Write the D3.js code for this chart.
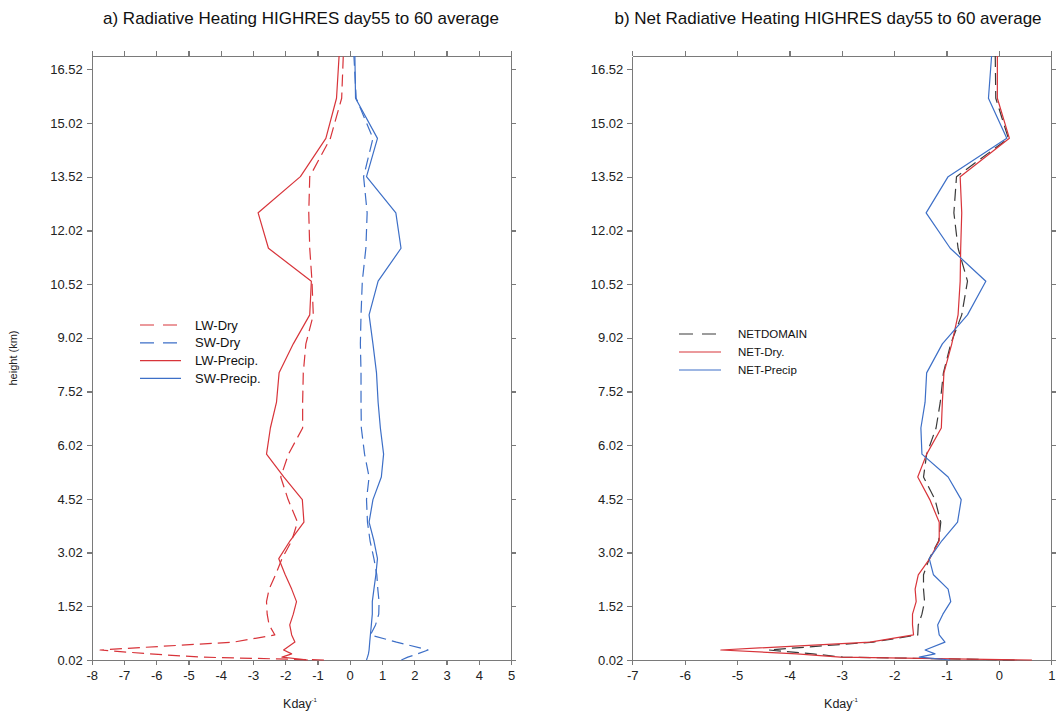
<!DOCTYPE html>
<html>
<head>
<meta charset="utf-8">
<script src="https://cdn.jsdelivr.net/npm/d3@7"></script>
<style>
  html, body { margin: 0; padding: 0; background: #ffffff; }
  svg { display: block; font-family: "Liberation Sans", Arial, Helvetica, sans-serif; }
  .axis path, .axis line { stroke: #7a7a7a; stroke-width: 1.3px; shape-rendering: crispEdges; }
  .axis text { fill: #222; font-size: 13px; }
</style>
</head>
<body>
<svg id="chart" width="1063" height="715"></svg>
<script>
// Model levels (km) shared by every profile
const heights = [0.02, 0.10, 0.19, 0.30, 0.52, 0.72, 1.0, 1.3, 1.65, 2.0, 2.4, 2.85, 3.35, 3.87,
  4.5, 5.13, 5.77, 6.5, 7.22, 8.04, 8.85, 9.66, 10.6, 11.52, 12.51, 13.52, 14.59, 15.71, 16.89];

// Panel a) radiative heating rates (K/day)
const lwDry = [-0.8, -4.6, -6.2, -7.74, -3.6, -2.32, -2.5, -2.56, -2.58, -2.5, -2.3, -2.1, -1.8, -1.62,
  -1.91, -2.14, -1.9, -1.46, -1.46, -1.44, -1.36, -1.13, -1.17, -1.24, -1.27, -1.24, -0.6, -0.25, -0.2];
const swDry = [1.6, 1.8, 2.1, 2.43, 1.45, 0.64, 0.8, 0.9, 0.91, 0.87, 0.84, 0.75, 0.63, 0.55,
  0.52, 0.6, 0.46, 0.36, 0.35, 0.35, 0.33, 0.35, 0.39, 0.5, 0.54, 0.43, 0.72, 0.2, 0.13];
const lwPrecip = [-1.3, -2.1, -1.8, -2.05, -1.7, -1.8, -1.86, -1.75, -1.65, -1.8, -2.0, -2.2, -1.85, -1.42,
  -1.47, -2.04, -2.58, -2.46, -2.27, -2.19, -1.75, -1.24, -1.19, -2.52, -2.84, -1.53, -0.74, -0.41, -0.33];
const swPrecip = [0.52, 0.55, 0.58, 0.6, 0.62, 0.64, 0.67, 0.7, 0.7, 0.75, 0.81, 0.86, 0.75, 0.6,
  0.72, 0.98, 1.05, 0.95, 0.88, 0.83, 0.72, 0.6, 0.88, 1.59, 1.43, 0.52, 0.86, 0.18, 0.16];

// Panel b) net radiative heating rates (K/day)
const netDomain = [0.3, -2.98, -3.55, -4.4, -2.4, -1.55, -1.54, -1.47, -1.42, -1.44, -1.44, -1.33, -1.15, -1.11,
  -1.22, -1.44, -1.38, -1.2, -1.12, -1.06, -0.92, -0.71, -0.6, -0.78, -0.86, -0.81, 0.18, -0.06, -0.07];
const netDry = [0.63, -3.03, -3.86, -5.31, -2.46, -1.63, -1.65, -1.65, -1.58, -1.6, -1.54, -1.32, -1.14, -1.14,
  -1.32, -1.55, -1.38, -1.1, -1.08, -1.05, -0.9, -0.78, -0.74, -0.73, -0.71, -0.74, 0.2, -0.03, -0.03];
const netPrecip = [-0.93, -1.52, -1.22, -1.41, -1.03, -1.14, -1.17, -1.07, -0.92, -0.97, -1.25, -1.33, -1.09, -0.79,
  -0.72, -0.97, -1.47, -1.49, -1.41, -1.38, -1.08, -0.6, -0.25, -0.93, -1.39, -0.97, 0.15, -0.2, -0.14];

// Tick labels
const yTicks = [0.02, 1.52, 3.02, 4.52, 6.02, 7.52, 9.02, 10.52, 12.02, 13.52, 15.02, 16.52];
const xTicksA = [-8, -7, -6, -5, -4, -3, -2, -1, 0, 1, 2, 3, 4, 5];
const xTicksB = [-7, -6, -5, -4, -3, -2, -1, 0, 1];

const titleA = "a) Radiative Heating HIGHRES day55 to 60 average";
const titleB = "b) Net Radiative Heating HIGHRES day55 to 60 average";

const RED = "#d8343a", BLUE = "#3d6fc7", DARK = "#3a3a3a";

const svg = d3.select("#chart");

const y = d3.scaleLinear().domain([0.02, 16.89]).range([660, 56]);

function panel(cfg) {
  const x = d3.scaleLinear().domain(cfg.domain).range(cfg.range);
  const g = svg.append("g");
  const [x0, x1] = cfg.range;

  g.append("g").attr("class", "axis").attr("transform", `translate(${x0},0)`)
    .call(d3.axisLeft(y).tickValues(yTicks).tickFormat(d3.format(".2f")).tickSize(5).tickSizeOuter(0).tickPadding(4));
  g.append("g").attr("class", "axis").attr("transform", `translate(${x1},0)`)
    .call(d3.axisRight(y).tickValues(yTicks).tickFormat("").tickSize(5).tickSizeOuter(0));
  g.append("g").attr("class", "axis").attr("transform", `translate(0,${y.range()[0]})`)
    .call(d3.axisBottom(x).tickValues(cfg.ticks).tickFormat(d3.format("d")).tickSize(5).tickSizeOuter(0).tickPadding(6));
  g.append("g").attr("class", "axis").attr("transform", `translate(0,${y.range()[1]})`)
    .call(d3.axisTop(x).tickValues(cfg.ticks).tickFormat("").tickSize(5).tickSizeOuter(0));
  g.selectAll(".axis text").style("font-size", "13px");
  // plain hyphen minus for negative tick labels
  g.selectAll(".axis text").text(function () { return this.textContent.replace("\u2212", "-"); });

  const line = d3.line().x(d => x(d[0])).y(d => y(d[1]));
  cfg.series.forEach(s => {
    g.append("path")
      .datum(s.values.map((v, i) => [v, heights[i]]))
      .attr("d", line)
      .attr("fill", "none")
      .attr("stroke", s.color)
      .attr("stroke-width", 1.2)
      .attr("stroke-linejoin", "round")
      .attr("stroke-dasharray", s.dashed ? "12,6" : null);
  });

  // legend
  const lg = g.append("g");
  cfg.series.forEach((s, i) => {
    const ly = cfg.legend.y + i * cfg.legend.dy;
    lg.append("line")
      .attr("x1", cfg.legend.x).attr("x2", cfg.legend.x + cfg.legend.len)
      .attr("y1", ly).attr("y2", ly)
      .attr("stroke", s.color).attr("stroke-width", 1.2)
      .attr("stroke-dasharray", s.dashed ? "14,9" : null);
    lg.append("text")
      .attr("x", cfg.legend.tx).attr("y", ly).attr("dy", "0.35em")
      .attr("font-size", cfg.legend.fs).attr("fill", "#111")
      .text(s.name);
  });

  // title
  g.append("text").attr("x", cfg.titleX).attr("y", 24).attr("text-anchor", "middle")
    .attr("font-size", 17).attr("fill", "#111").text(cfg.title);

  // x axis label
  const xl = g.append("text").attr("x", cfg.xlabX).attr("y", 708).attr("text-anchor", "middle")
    .attr("font-size", 12.5).attr("fill", "#222");
  xl.append("tspan").text("Kday");
  xl.append("tspan").attr("dy", -6).attr("font-size", 6).text("-1");
}

panel({
  domain: [-8, 5], range: [91.7, 511], ticks: xTicksA,
  title: titleA, titleX: 301, xlabX: 300,
  series: [
    { name: "LW-Dry", values: lwDry, color: RED, dashed: true },
    { name: "SW-Dry", values: swDry, color: BLUE, dashed: true },
    { name: "LW-Precip.", values: lwPrecip, color: RED, dashed: false },
    { name: "SW-Precip.", values: swPrecip, color: BLUE, dashed: false }
  ],
  legend: { x: 140, len: 41, tx: 195, y: 325, dy: 17.8, fs: 13 }
});

panel({
  domain: [-7, 1], range: [632.3, 1051.3], ticks: xTicksB,
  title: titleB, titleX: 828, xlabX: 841,
  series: [
    { name: "NETDOMAIN", values: netDomain, color: DARK, dashed: true },
    { name: "NET-Dry.", values: netDry, color: RED, dashed: false },
    { name: "NET-Precip", values: netPrecip, color: BLUE, dashed: false }
  ],
  legend: { x: 679, len: 42, tx: 738, y: 334, dy: 18, fs: 11.5 }
});

// shared y axis label
svg.append("text")
  .attr("transform", "translate(17,358) rotate(-90)")
  .attr("text-anchor", "middle").attr("font-size", 11).attr("fill", "#222")
  .text("height (km)");
</script>
</body>
</html>
